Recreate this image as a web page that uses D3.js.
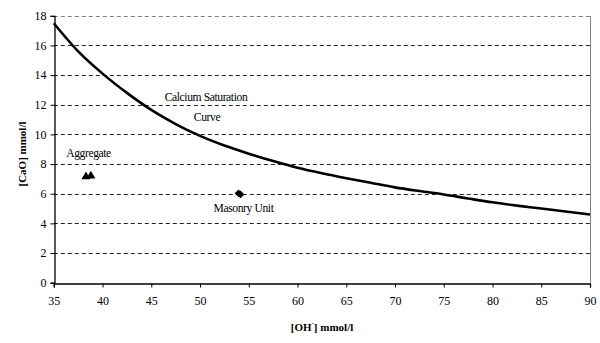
<!DOCTYPE html>
<html>
<head>
<meta charset="utf-8">
<script src="https://cdn.jsdelivr.net/npm/d3@7"></script>
<style>
  html, body { margin: 0; padding: 0; background: #fff; }
  svg { display: block; }
</style>
</head>
<body>
<svg id="chart" width="600" height="343" font-family="Liberation Serif"></svg>
<script>
// Calcium saturation curve: [OH-] (mmol/l) vs [CaO] (mmol/l)
const curveOH  = [35, 37.5, 40, 42.5, 45, 47.5, 50, 52.5, 55, 57.5, 60, 62.5, 65, 67.5, 70, 72.5, 75, 77.5, 80, 82.5, 85, 87.5, 90];
const curveCaO = [17.5, 15.6, 14.1, 12.8, 11.65, 10.7, 9.9, 9.25, 8.7, 8.2, 7.75, 7.38, 7.05, 6.74, 6.43, 6.18, 5.95, 5.68, 5.42, 5.2, 5.0, 4.8, 4.6];

// Measured samples
const aggregateOH  = [38.3, 38.8];
const aggregateCaO = [7.15, 7.2];
const masonryOH  = [53.95, 54.15];
const masonryCaO = [6.03, 5.95];

const xTicks = [35, 40, 45, 50, 55, 60, 65, 70, 75, 80, 85, 90];
const yTicks = [0, 2, 4, 6, 8, 10, 12, 14, 16, 18];

const FONT = "Liberation Serif";
const svg = d3.select("#chart");
const m = { left: 53.8, right: 590, top: 15.8, bottom: 282.7 };

const x = d3.scaleLinear().domain([35, 90]).range([m.left, m.right]);
const y = d3.scaleLinear().domain([0, 18]).range([m.bottom, m.top]);

// Dashed horizontal gridlines
svg.append("g")
  .selectAll("line")
  .data(yTicks.filter(d => d > 0))
  .join("line")
  .attr("x1", m.left).attr("x2", m.right)
  .attr("y1", d => Math.round(y(d)) + 0.5).attr("y2", d => Math.round(y(d)) + 0.5)
  .attr("stroke", d => d === 18 ? "#808080" : "#222")
  .attr("stroke-width", 1)
  .attr("stroke-dasharray", "4,3");

// Right edge of plot area
svg.append("line")
  .attr("x1", Math.round(m.right) + 0.5).attr("x2", Math.round(m.right) + 0.5)
  .attr("y1", y(18)).attr("y2", y(0))
  .attr("stroke", "#808080").attr("stroke-width", 1);

// Axes
const xAxis = svg.append("g")
  .attr("transform", `translate(0,${Math.round(y(0)) + 0.5})`)
  .call(d3.axisBottom(x).tickValues(xTicks).tickSize(4).tickPadding(9).tickFormat(d3.format("d")))
  .attr("font-family", FONT).attr("font-size", 12);
xAxis.select(".domain").attr("stroke", "#000").attr("stroke-width", 1.3);
xAxis.selectAll(".tick line").attr("stroke", "#000");
xAxis.selectAll("text").attr("font-family", FONT).attr("font-size", 12).attr("fill", "#000");

const yAxis = svg.append("g")
  .attr("transform", `translate(${Math.round(m.left) + 0.5},0)`)
  .call(d3.axisLeft(y).tickValues(yTicks).tickSize(4).tickPadding(4).tickFormat(d3.format("d")))
  .attr("font-family", FONT).attr("font-size", 12);
yAxis.select(".domain").attr("stroke", "#000").attr("stroke-width", 1.3);
yAxis.selectAll(".tick line").attr("stroke", "#000");
yAxis.selectAll("text").attr("font-family", FONT).attr("font-size", 12).attr("fill", "#000");

// Saturation curve
const line = d3.line()
  .x(d => x(d[0]))
  .y(d => y(d[1]))
  .curve(d3.curveMonotoneX);
svg.append("path")
  .datum(d3.zip(curveOH, curveCaO))
  .attr("d", line)
  .attr("fill", "none")
  .attr("stroke", "#000")
  .attr("stroke-width", 2.6)
  .attr("stroke-linejoin", "round");

// Aggregate samples (triangles)
svg.append("g")
  .selectAll("path")
  .data(d3.zip(aggregateOH, aggregateCaO))
  .join("path")
  .attr("transform", d => `translate(${x(d[0])},${y(d[1])})`)
  .attr("d", d3.symbol(d3.symbolTriangle, 36))
  .attr("fill", "#000");

// Masonry unit samples (diamonds)
svg.append("g")
  .selectAll("path")
  .data(d3.zip(masonryOH, masonryCaO))
  .join("path")
  .attr("transform", d => `translate(${x(d[0])},${y(d[1])}) rotate(45)`)
  .attr("d", d3.symbol(d3.symbolSquare, 30))
  .attr("fill", "#000");

// Annotations
const note = (txt, cx, cy) => svg.append("text")
  .attr("x", cx).attr("y", cy)
  .attr("text-anchor", "middle")
  .attr("dominant-baseline", "central")
  .attr("font-family", FONT)
  .attr("font-size", 11.6)
  .attr("letter-spacing", -0.4)
  .text(txt);
note("Calcium Saturation", 206, 97);
note("Curve", 207, 117);
note("Aggregate", 88.5, 153.5);
note("Masonry Unit", 243.5, 208.5);

// Axis titles
const xt = svg.append("text")
  .attr("x", 322).attr("y", 327)
  .attr("text-anchor", "middle")
  .attr("dominant-baseline", "central")
  .attr("font-family", FONT)
  .attr("font-size", 11)
  .attr("font-weight", "bold");
xt.append("tspan").text("[OH");
xt.append("tspan").attr("baseline-shift", "super").attr("font-size", 7).text("-");
xt.append("tspan").text("] mmol/l");

svg.append("text")
  .attr("transform", "translate(22,154) rotate(-90)")
  .attr("text-anchor", "middle")
  .attr("dominant-baseline", "central")
  .attr("font-family", FONT)
  .attr("font-size", 11)
  .attr("font-weight", "bold")
  .text("[CaO] mmol/l");
</script>
</body>
</html>
